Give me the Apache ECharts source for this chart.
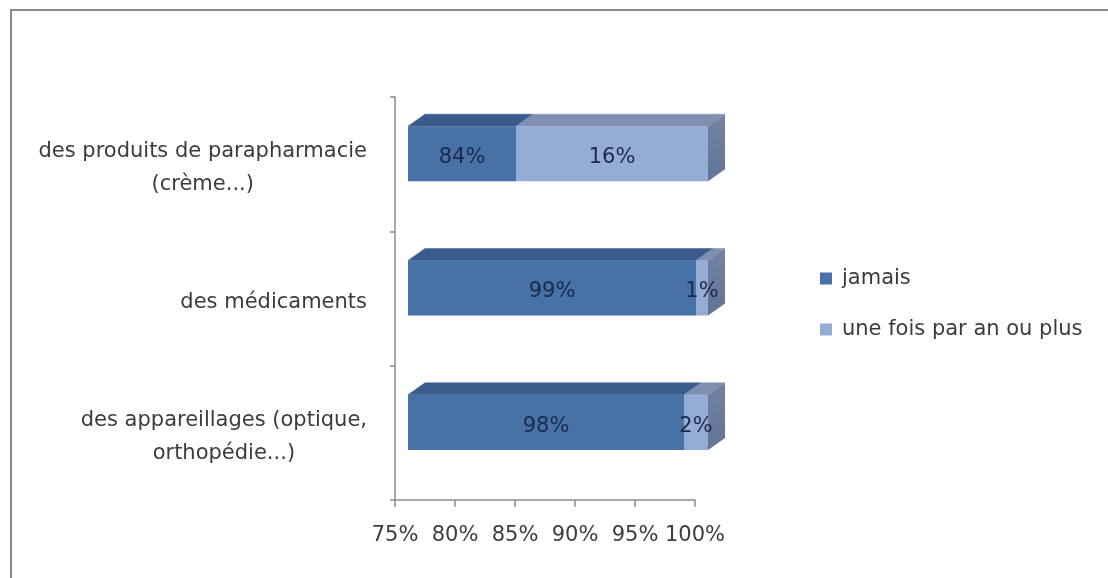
<!DOCTYPE html>
<html>
<head>
<meta charset="utf-8">
<script src="https://cdn.jsdelivr.net/npm/echarts@6/dist/echarts.min.js"></script>
<style>
  html, body { margin: 0; padding: 0; background: #fff; }
  #chart { width: 1108px; height: 578px; }
</style>
</head>
<body>
<div id="chart"></div>
<script>
// Categories, top to bottom
const categories = [
  'des produits de parapharmacie\n(crème...)',
  'des médicaments',
  'des appareillages (optique,\northopédie...)'
];
const seriesNames = ['jamais', 'une fois par an ou plus'];
const jamais = [84, 99, 98];
const uneFois = [16, 1, 2];
const xTicks = [75, 80, 85, 90, 95, 100];

const FONT = 'DejaVu Sans';
const FS = 21;
const TEXT = '#3c3c3c';
const AXIS_MIN = xTicks[0];
const AXIS_MAX = xTicks[xTicks.length - 1];

// Shading for the pseudo-3D boxes
const palettes = [
  { front: '#4771a7', top: '#3a5b8b', side: '#34507a' },
  { front: '#95acd4', top: '#7e8fb0', side: '#627495' }
];

// Projection of the box depth (pixels)
const DX = 17, DY = -12, SHIFT = 13, LIFT = -0.078, THICK = 0.41;

function makeRender(pal, withSide) {
  return function (params, api) {
    const start = api.value(0), end = api.value(1), cat = api.value(2);
    const pa = api.coord([start, cat]);
    const pb = api.coord([end, cat]);
    const band = api.size([0, 1])[1];
    const h = band * THICK;
    const cy = pa[1] + band * LIFT;
    const x0 = pa[0] + SHIFT, x1 = pb[0] + SHIFT;
    const y0 = cy - h / 2, y1 = cy + h / 2;
    const children = [
      { type: 'polygon', shape: { points: [[x0, y0], [x1, y0], [x1 + DX, y0 + DY], [x0 + DX, y0 + DY]] },
        style: { fill: pal.top, stroke: pal.top, lineWidth: 0.5 } },
      { type: 'rect', shape: { x: x0, y: y0, width: x1 - x0, height: h },
        style: { fill: pal.front } }
    ];
    if (withSide) {
      children.push({ type: 'polygon', shape: { points: [[x1, y0], [x1 + DX, y0 + DY], [x1 + DX, y1 + DY], [x1, y1]] },
        style: { fill: new echarts.graphic.LinearGradient(0, 0, 0, 1, [
          { offset: 0, color: '#7282a3' }, { offset: 1, color: pal.side }]) } });
    }
    children.push({ type: 'text', style: {
      text: Math.round(api.value(3)) + '%', x: (x0 + x1) / 2, y: cy + 4,
      align: 'center', verticalAlign: 'middle',
      font: FS + 'px "' + FONT + '"', fill: '#1b2a4c' } });
    return { type: 'group', children: children };
  };
}

const seg1 = jamais.map((v, i) => [AXIS_MIN, v, i, v]);
const seg2 = uneFois.map((v, i) => [jamais[i], jamais[i] + v, i, v]);

const chart = echarts.init(document.getElementById('chart'), null, { renderer: 'canvas' });
chart.setOption({
  animation: false,
  backgroundColor: '#ffffff',
  textStyle: { fontFamily: FONT },
  graphic: [{
    type: 'rect', z: 100, silent: true,
    shape: { x: 11, y: 10, width: 1200, height: 700 },
    style: { fill: 'none', stroke: '#8a8a8a', lineWidth: 2 }
  }],
  grid: { left: 395, right: 413, top: 97, bottom: 78, containLabel: false },
  legend: {
    orient: 'vertical', left: 820, top: 268, padding: 0, itemGap: 30,
    icon: 'rect', itemWidth: 12, itemHeight: 12,
    textStyle: { fontFamily: FONT, fontSize: FS, color: TEXT, padding: [0, 0, 0, 5] },
    data: seriesNames
  },
  xAxis: {
    type: 'value', min: AXIS_MIN, max: AXIS_MAX, interval: 5,
    axisLine: { show: true, lineStyle: { color: '#8c8c8c', width: 1.5 } },
    axisTick: { show: true, length: 7, lineStyle: { color: '#8c8c8c', width: 1.5 } },
    splitLine: { show: false },
    axisLabel: { formatter: '{value}%', fontFamily: FONT, fontSize: FS, color: TEXT, margin: 25 }
  },
  yAxis: {
    type: 'category', inverse: true, data: categories,
    axisLine: { show: true, lineStyle: { color: '#8c8c8c', width: 1.5 } },
    axisTick: { show: true, length: 5, lineStyle: { color: '#8c8c8c', width: 1.5 } },
    axisLabel: {
      margin: 28, align: 'right', padding: [8, 0, 0, 0],
      formatter: function (val) {
        return val.split('\n').map(l => '{c|' + l + '}').join('\n');
      },
      rich: { c: { align: 'center', fontFamily: FONT, fontSize: FS, color: TEXT, lineHeight: 33 } }
    }
  },
  series: [
    { name: seriesNames[0], type: 'custom', renderItem: makeRender(palettes[0], false),
      itemStyle: { color: palettes[0].front },
      encode: { x: [0, 1], y: 2 }, data: seg1 },
    { name: seriesNames[1], type: 'custom', renderItem: makeRender(palettes[1], true),
      itemStyle: { color: palettes[1].front },
      encode: { x: [0, 1], y: 2 }, data: seg2 }
  ]
});
</script>
</body>
</html>
